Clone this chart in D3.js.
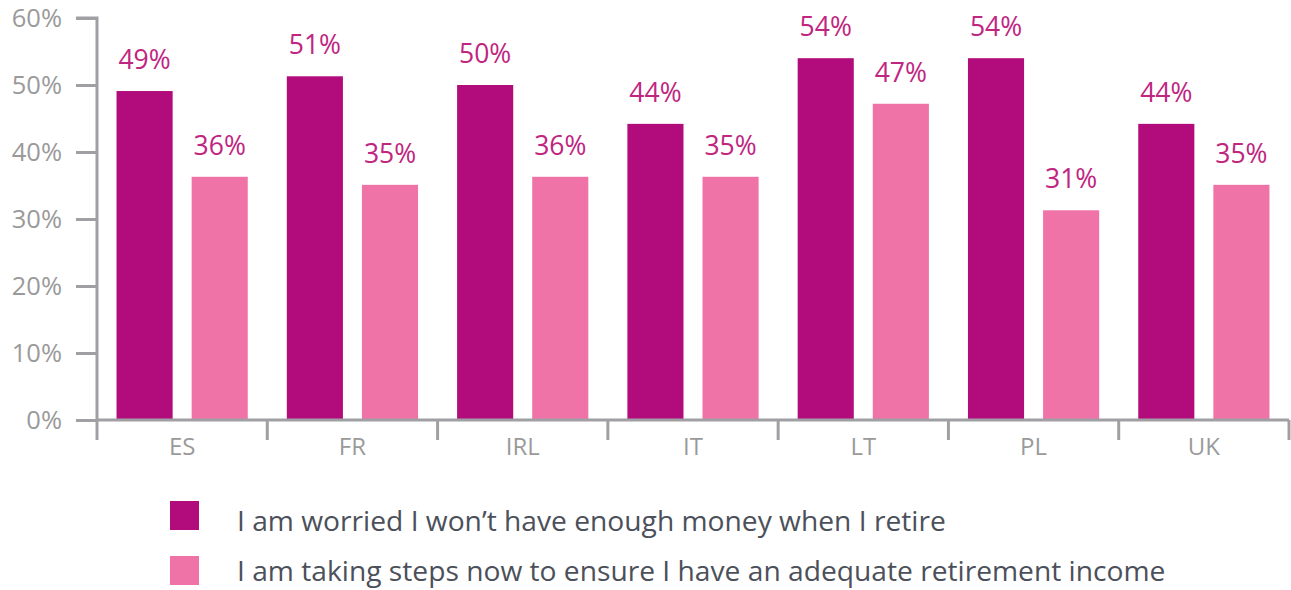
<!DOCTYPE html>
<html><head><meta charset="utf-8">
<script src="https://cdn.jsdelivr.net/npm/d3@7"></script>
<style>html,body{margin:0;padding:0;background:#fff}svg{display:block}</style>
</head><body>
<svg id="c" width="1291" height="590"></svg>
<script>
const categories = ["ES","FR","IRL","IT","LT","PL","UK"];
const worried = [49.1, 51.3, 50.0, 44.2, 54.0, 54.0, 44.2];
const worriedLabels = ["49%","51%","50%","44%","54%","54%","44%"];
const steps = [36.3, 35.1, 36.3, 36.3, 47.2, 31.3, 35.1];
const stepsLabels = ["36%","35%","36%","35%","47%","31%","35%"];
const seriesNames = ["I am worried I won\u2019t have enough money when I retire",
                     "I am taking steps now to ensure I have an adequate retirement income"];
const yTicks = [0,10,20,30,40,50,60];
const colors = ["#b20c7c","#f073a8"];

const font = "'Open Sans', sans-serif";
const svg = d3.select("#c");
const x0 = 97, x1 = 1289, yBase = 420, yTop = 18;
const x = d3.scaleBand().domain(categories).range([x0, x1]).paddingInner(0).paddingOuter(0);
const xs = d3.scaleBand().domain([0,1]).range([0, x.bandwidth()]).paddingInner(0.253).paddingOuter(0.26);
const y = d3.scaleLinear().domain([0,60]).range([yBase, yTop]);
const axisColor = "#a0a0a4";

// y axis
const ya = svg.append("g").attr("transform",`translate(${x0},0)`)
  .call(d3.axisLeft(y).tickValues(yTicks).tickFormat(d=>d+"%").tickSize(21).tickPadding(14));
ya.select(".domain").attr("stroke",axisColor).attr("stroke-width",3).attr("d",`M-21,${yTop}H0V${yBase}`);
ya.selectAll(".tick line").attr("stroke",axisColor).attr("stroke-width",3);
ya.selectAll(".tick text").attr("fill","#9a9a9a").style("font-family",font).style("font-size","25.5px");

// bars
const series = [worried, steps];
const labels = [worriedLabels, stepsLabels];
series.forEach((vals, si) => {
  svg.append("g").selectAll("rect").data(vals).join("rect")
    .attr("x",(d,i)=>x(categories[i])+xs(si))
    .attr("width",xs.bandwidth())
    .attr("y",d=>y(d)).attr("height",d=>yBase-y(d))
    .attr("fill",colors[si]);
  svg.append("g").selectAll("text").data(vals).join("text")
    .attr("x",(d,i)=>x(categories[i])+xs(si)+xs.bandwidth()/2)
    .attr("y",d=>y(d)-22)
    .attr("text-anchor","middle")
    .attr("fill","#c0257f")
    .style("font-family",font).style("font-size","26.5px")
    .text((d,i)=>labels[si][i]);
});

// x axis
const xa = svg.append("g").attr("transform",`translate(0,${yBase})`)
  .call(d3.axisBottom(x).tickSize(0).tickPadding(18));
xa.select(".domain").remove();
xa.selectAll(".tick text").attr("fill","#9a9a9a").style("font-family",font).style("font-size","24px").attr("dy","0.71em");
svg.append("line").attr("x1",x0).attr("x2",x1).attr("y1",yBase).attr("y2",yBase).attr("stroke",axisColor).attr("stroke-width",3);
const bounds = categories.map(c=>x(c)).concat([x1]);
svg.append("g").selectAll("line").data(bounds).join("line")
  .attr("x1",d=>d).attr("x2",d=>d).attr("y1",yBase).attr("y2",yBase+20)
  .attr("stroke",axisColor).attr("stroke-width",3);

// legend
const lg = svg.append("g");
const legendRectY = [501, 556];
const legendTextY = [531, 581];
seriesNames.forEach((n,i)=>{
  lg.append("rect").attr("x",170).attr("y",legendRectY[i]).attr("width",29).attr("height",29).attr("fill",colors[i]);
  lg.append("text").attr("x",237).attr("y",legendTextY[i]).attr("fill","#4b505a")
    .style("font-family",font).style("font-size","28.2px").text(n);
});
</script>
</body></html>
